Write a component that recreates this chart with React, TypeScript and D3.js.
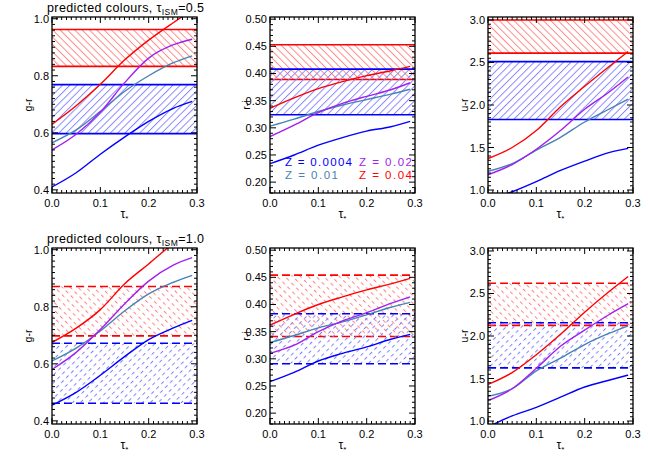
import React from "react";
import * as d3 from "d3";

// ---------- data ----------
const tauStar = [0, 0.05, 0.1, 0.15, 0.2, 0.25, 0.29];
const metallicityLabels = ["0.0004", "0.01", "0.02", "0.04"];

const xTicks = [0, 0.1, 0.2, 0.3];
const grTicks = [0.4, 0.6, 0.8, 1.0];
const riTicks = [0.2, 0.25, 0.3, 0.35, 0.4, 0.45, 0.5];
const urTicks = [1.0, 1.5, 2.0, 2.5, 3.0];

// tau_ISM = 0.5 (order: Z=0.0004, 0.01, 0.02, 0.04)
const gr05 = [
  [0.41, 0.46, 0.525, 0.585, 0.64, 0.685, 0.71],
  [0.565, 0.61, 0.675, 0.745, 0.8, 0.845, 0.87],
  [0.54, 0.595, 0.672, 0.775, 0.862, 0.908, 0.928],
  [0.63, 0.695, 0.77, 0.855, 0.925, 0.985, 1.03],
];
const ri05 = [
  [0.234, 0.25, 0.268, 0.282, 0.294, 0.302, 0.312],
  [0.303, 0.316, 0.33, 0.342, 0.352, 0.362, 0.371],
  [0.284, 0.305, 0.328, 0.345, 0.358, 0.37, 0.383],
  [0.336, 0.355, 0.372, 0.385, 0.396, 0.405, 0.413],
];
const ur05 = [
  [0.88, 0.98, 1.1, 1.23, 1.34, 1.44, 1.49],
  [1.22, 1.31, 1.47, 1.62, 1.8, 1.95, 2.07],
  [1.18, 1.3, 1.48, 1.7, 1.95, 2.15, 2.33],
  [1.37, 1.5, 1.7, 1.98, 2.22, 2.45, 2.63],
];

// tau_ISM = 1.0
const gr10 = [
  [0.455, 0.5, 0.56, 0.625, 0.685, 0.725, 0.752],
  [0.61, 0.655, 0.715, 0.785, 0.845, 0.885, 0.91],
  [0.58, 0.64, 0.72, 0.81, 0.89, 0.945, 0.972],
  [0.675, 0.725, 0.79, 0.88, 0.95, 1.02, 1.06],
];
const ri10 = [
  [0.258, 0.275, 0.296, 0.31, 0.322, 0.336, 0.345],
  [0.33, 0.343, 0.357, 0.368, 0.381, 0.395, 0.404],
  [0.31, 0.325, 0.35, 0.37, 0.385, 0.402, 0.414],
  [0.362, 0.382, 0.4, 0.414, 0.427, 0.438, 0.448],
];
const ur10 = [
  [0.93, 1.06, 1.16, 1.28, 1.4, 1.48, 1.54],
  [1.29, 1.38, 1.59, 1.74, 1.9, 2.03, 2.12],
  [1.24, 1.38, 1.62, 1.88, 2.07, 2.25, 2.38],
  [1.43, 1.57, 1.78, 2.02, 2.28, 2.52, 2.7],
];

// observed ranges [low, high]
const grObs05Red = [0.833, 0.962];
const grObs05Blue = [0.597, 0.769];
const riObs05Red = [0.389, 0.453];
const riObs05Blue = [0.324, 0.408];
const urObs05Red = [2.61, 3.0];
const urObs05Blue = [1.83, 2.51];
const grObs10Red = [0.698, 0.871];
const grObs10Blue = [0.462, 0.672];
const riObs10Red = [0.341, 0.454];
const riObs10Blue = [0.291, 0.383];
const urObs10Red = [2.125, 2.62];
const urObs10Blue = [1.625, 2.155];

// ---------- styles ----------
const seriesColors = ["#0000ff", "#4682b4", "#a020f0", "#ff0000"];
const FONT = "'Liberation Sans', Arial, Helvetica, sans-serif";
const colLeft = [52, 270, 488];
const rowTop = [17, 248];
const PW = 145;
const PH = 176;

type PanelProps = {
  id: string;
  x0: number;
  y0: number;
  yDomain: [number, number];
  yTicks: number[];
  yMinor: number;
  yFmt: string;
  yLabel: string;
  curves: number[][];
  red: number[];
  blue: number[];
  dashed: boolean;
};

function Panel(p: PanelProps) {
  const x = d3.scaleLinear().domain([0, 0.3]).range([p.x0, p.x0 + PW]);
  const y = d3.scaleLinear().domain(p.yDomain).range([p.y0 + PH, p.y0]);
  const line = d3
    .line<number>()
    .x((_, i) => x(tauStar[i]))
    .y((d) => y(d))
    .curve(d3.curveMonotoneX);
  const fmt = d3.format(p.yFmt);
  const eps = 1e-9;
  const xMinor = d3.range(0, 0.3 + eps, 0.01).filter((v) => !xTicks.some((t) => Math.abs(t - v) < eps));
  const yMinor = d3
    .range(Math.ceil(p.yDomain[0] / p.yMinor) * p.yMinor, p.yDomain[1] + eps, p.yMinor)
    .filter((v) => v >= p.yDomain[0] && v <= p.yDomain[1] && !p.yTicks.some((t) => Math.abs(t - v) < eps));
  const majL = 6;
  const minL = 3;
  const dash = p.dashed ? "8,4" : undefined;
  const band = (b: number[], color: string, pat: string) => (
    <g>
      <rect x={p.x0} y={y(b[1])} width={PW} height={y(b[0]) - y(b[1])} fill={`url(#${pat})`} />
      <line x1={p.x0} x2={p.x0 + PW} y1={y(b[1])} y2={y(b[1])} stroke={color} strokeWidth={1.6} strokeDasharray={dash} />
      <line x1={p.x0} x2={p.x0 + PW} y1={y(b[0])} y2={y(b[0])} stroke={color} strokeWidth={1.6} strokeDasharray={dash} />
    </g>
  );
  const sfx = p.dashed ? "D" : "S";
  return (
    <g>
      <defs>
        <clipPath id={`clip-${p.id}`}>
          <rect x={p.x0} y={p.y0} width={PW} height={PH} />
        </clipPath>
      </defs>
      <g clipPath={`url(#clip-${p.id})`}>
        {band(p.red, "#ff0000", "hatchRed" + sfx)}
        {band(p.blue, "#0000ff", "hatchBlue" + sfx)}
        {p.curves.map((c, i) => (
          <path key={i} d={line(c) || ""} fill="none" stroke={seriesColors[i]} strokeWidth={1.4} />
        ))}
      </g>
      {/* frame */}
      <rect x={p.x0} y={p.y0} width={PW} height={PH} fill="none" stroke="#000" strokeWidth={1.3} />
      {/* x ticks */}
      {xTicks.map((t) => (
        <g key={"xt" + t}>
          <line x1={x(t)} x2={x(t)} y1={p.y0 + PH} y2={p.y0 + PH - majL} stroke="#000" />
          <line x1={x(t)} x2={x(t)} y1={p.y0} y2={p.y0 + majL} stroke="#000" />
          <text x={x(t)} y={p.y0 + PH + 14} textAnchor="middle" fontSize={11} fontFamily={FONT}>
            {d3.format(".1f")(t)}
          </text>
        </g>
      ))}
      {xMinor.map((t) => (
        <g key={"xm" + t}>
          <line x1={x(t)} x2={x(t)} y1={p.y0 + PH} y2={p.y0 + PH - minL} stroke="#000" />
          <line x1={x(t)} x2={x(t)} y1={p.y0} y2={p.y0 + minL} stroke="#000" />
        </g>
      ))}
      {/* y ticks */}
      {p.yTicks.map((t) => (
        <g key={"yt" + t}>
          <line x1={p.x0} x2={p.x0 + majL} y1={y(t)} y2={y(t)} stroke="#000" />
          <line x1={p.x0 + PW} x2={p.x0 + PW - majL} y1={y(t)} y2={y(t)} stroke="#000" />
          <text x={p.x0 - 3} y={y(t) + 4} textAnchor="end" fontSize={11} fontFamily={FONT}>
            {fmt(t)}
          </text>
        </g>
      ))}
      {yMinor.map((t) => (
        <g key={"ym" + t}>
          <line x1={p.x0} x2={p.x0 + minL} y1={y(t)} y2={y(t)} stroke="#000" />
          <line x1={p.x0 + PW} x2={p.x0 + PW - minL} y1={y(t)} y2={y(t)} stroke="#000" />
        </g>
      ))}
      {/* axis titles */}
      <text
        transform={`translate(${p.x0 - 20},${p.y0 + PH / 2}) rotate(-90)`}
        textAnchor="middle"
        fontSize={10.5}
        fontFamily={FONT}
      >
        {p.yLabel}
      </text>
      <text x={p.x0 + PW / 2} y={p.y0 + PH + 25} textAnchor="middle" fontSize={12} fontFamily={FONT}>
        τ<tspan fontSize={8} dy={3}>*</tspan>
      </text>
    </g>
  );
}

export default function App() {
  const rows = [
    { gr: gr05, ri: ri05, ur: ur05, obs: [grObs05Red, grObs05Blue, riObs05Red, riObs05Blue, urObs05Red, urObs05Blue], dashed: false, tau: "0.5" },
    { gr: gr10, ri: ri10, ur: ur10, obs: [grObs10Red, grObs10Blue, riObs10Red, riObs10Blue, urObs10Red, urObs10Blue], dashed: true, tau: "1.0" },
  ];
  return (
    <svg width={648} height={459} style={{ position: "absolute", left: 0, top: 0, background: "#fff" }}>
      <defs>
        <pattern id="hatchRedS" patternUnits="userSpaceOnUse" width={5.2} height={10} patternTransform="rotate(-45)">
          <line x1={0.5} x2={0.5} y1={0} y2={10} stroke="#ff8080" strokeWidth={0.9} />
        </pattern>
        <pattern id="hatchBlueS" patternUnits="userSpaceOnUse" width={5.2} height={10} patternTransform="rotate(45)">
          <line x1={0.5} x2={0.5} y1={0} y2={10} stroke="#8080ff" strokeWidth={0.9} />
        </pattern>
        <pattern id="hatchRedD" patternUnits="userSpaceOnUse" width={5.5} height={7} patternTransform="rotate(-45)">
          <line x1={0.5} x2={0.5} y1={0} y2={3.5} stroke="#ff8080" strokeWidth={1} />
        </pattern>
        <pattern id="hatchBlueD" patternUnits="userSpaceOnUse" width={5.5} height={7} patternTransform="rotate(45)">
          <line x1={0.5} x2={0.5} y1={0} y2={3.5} stroke="#8080ff" strokeWidth={1} />
        </pattern>
      </defs>
      {rows.map((r, ri) => {
        const y0 = rowTop[ri];
        const pre = ri === 0 ? "t" : "b";
        return (
          <g key={ri}>
            <Panel id={pre + "gr"} x0={colLeft[0]} y0={y0} yDomain={[0.389, 1.006]} yTicks={grTicks} yMinor={0.02} yFmt=".1f" yLabel="g-r" curves={r.gr} red={r.obs[0]} blue={r.obs[1]} dashed={r.dashed} />
            <Panel id={pre + "ri"} x0={colLeft[1]} y0={y0} yDomain={[0.18, 0.504]} yTicks={riTicks} yMinor={0.01} yFmt=".2f" yLabel="r-i" curves={r.ri} red={r.obs[2]} blue={r.obs[3]} dashed={r.dashed} />
            <Panel id={pre + "ur"} x0={colLeft[2]} y0={y0} yDomain={[0.965, 3.035]} yTicks={urTicks} yMinor={0.05} yFmt=".1f" yLabel="u-r" curves={r.ur} red={r.obs[4]} blue={r.obs[5]} dashed={r.dashed} />
            <text x={47} y={y0 - 5} fontSize={12.5} fontFamily={FONT} textLength={157} lengthAdjust="spacing">
              predicted colours, τ<tspan fontSize={8.5} dy={3}>ISM</tspan>
              <tspan dy={-3}>={r.tau}</tspan>
            </text>
          </g>
        );
      })}
      {/* legend */}
      <g fontFamily={FONT} fontSize={11.5}>
        <text x={285} y={166} fill={seriesColors[0]} textLength={67} lengthAdjust="spacing">Z = {metallicityLabels[0]}</text>
        <text x={359} y={166} fill={seriesColors[2]} textLength={53} lengthAdjust="spacing">Z = {metallicityLabels[2]}</text>
        <text x={285} y={178.5} fill={seriesColors[1]} textLength={53} lengthAdjust="spacing">Z = {metallicityLabels[1]}</text>
        <text x={359} y={178.5} fill={seriesColors[3]} textLength={53} lengthAdjust="spacing">Z = {metallicityLabels[3]}</text>
      </g>
    </svg>
  );
}
